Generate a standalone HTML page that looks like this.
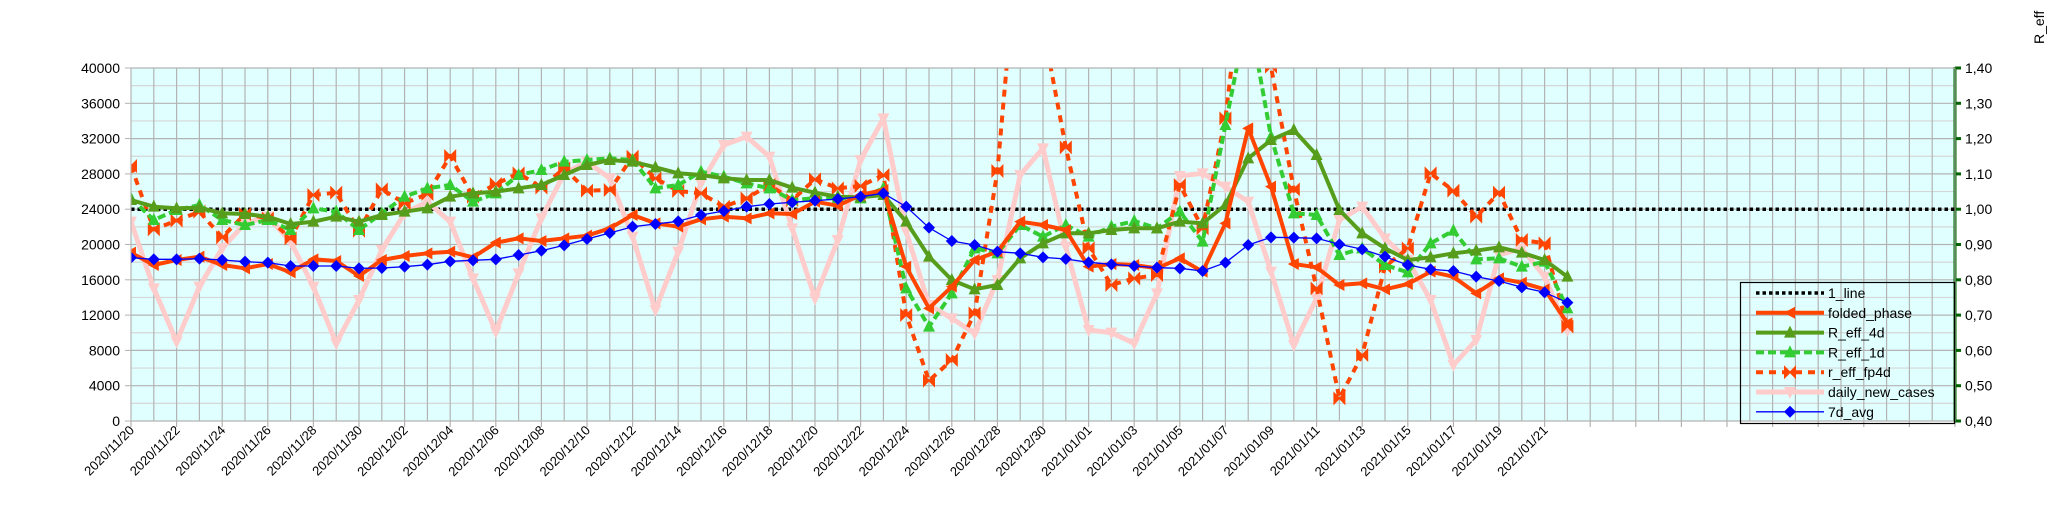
<!DOCTYPE html>
<html><head><meta charset="utf-8"><style>
body{margin:0;background:#fff;}
svg{display:block;font-family:"Liberation Sans",sans-serif;}
</style></head><body>
<svg id="s" width="2048" height="527" xmlns="http://www.w3.org/2000/svg"></svg>
<script>
const NS="http://www.w3.org/2000/svg";
const s=document.getElementById('s');
let h='';
const L=131,R=1955,T=68,B=421,DX=22.8;
h+=`<rect x="${L}" y="${T}" width="${R-L}" height="${B-T}" fill="#e0ffff"/>`;
// minor horizontal
for(let i=0;i<=20;i++){const y=B-i*(B-T)/20;h+=`<line x1="${L}" x2="${R}" y1="${y}" y2="${y}" stroke="${i%2?'#d6d6d6':'#b3b3b3'}" stroke-width="1.2"/>`;}
for(let d=0;d*DX<=R-L+1;d++){const x=L+d*DX;h+=`<line x1="${x}" x2="${x}" y1="${T}" y2="${B+(d%2==0?6:0)}" stroke="#b3b3b3" stroke-width="1.2"/>`;}
// left labels
for(let i=0;i<=10;i++){const y=B-i*(B-T)/10;h+=`<line x1="${L-6}" x2="${L}" y1="${y}" y2="${y}" stroke="#b3b3b3"/><text x="120" y="${y+5}" font-size="14" text-anchor="end" fill="#000">${i*4000}</text>`;}
// right axis
h+=`<line x1="${R}" x2="${R}" y1="${T-1}" y2="${B+1}" stroke="#006400" stroke-width="3"/>`;
for(let i=0;i<=10;i++){const y=B-i*(B-T)/10;const v=(0.4+i*0.1).toFixed(2).replace('.',',');h+=`<line x1="${R}" x2="${R+6}" y1="${y}" y2="${y}" stroke="#006400" stroke-width="3"/><text x="1965" y="${y+5}" font-size="14" fill="#000">${v}</text>`;}
h+=`<text transform="translate(2044,44) rotate(-90)" font-size="14" fill="#000">R_eff</text>`;
// x labels
const start=new Date(Date.UTC(2020,10,20));
for(let d=0;d<=62;d+=2){const dt=new Date(start.getTime()+d*864e5);const t=dt.getUTCFullYear()+'/'+String(dt.getUTCMonth()+1).padStart(2,'0')+'/'+String(dt.getUTCDate()).padStart(2,'0');const x=L+d*DX;h+=`<text transform="translate(${x+4},${431}) rotate(-45)" font-size="13" text-anchor="end" fill="#000">${t}</text>`;}
h+=`<defs><clipPath id="c"><rect x="${L}" y="${T}" width="${R-L}" height="${B-T}"/></clipPath></defs><g clip-path="url(#c)">`;
h+=`<line x1="${L}" x2="${R}" y1="209.2" y2="209.2" stroke="#000" stroke-width="3.5" stroke-dasharray="3.5,3"/>`;
const X=d=>L+d*DX,Y=z=>60+z/3;
const avg=[593,598,598,596,600,605,608,618,618,618,625,624,620,614,604,601,598,585,572,556,537,519,500,492,484,465,453,440,432,427,422,417,410,400,440,503,543,555,575,580,592,597,607,613,618,623,625,633,608,555,532,533,535,553,568,590,615,628,633,650,663,682,697,728];
const fold=[578,615,600,590,615,625,612,637,598,603,648,600,588,580,575,592,548,535,543,535,527,505,465,490,500,478,470,475,460,462,425,437,405,390,620,745,680,600,575,485,495,510,620,612,615,625,595,635,490,205,380,612,622,675,670,688,672,635,650,700,655,668,688,790];
const r4=[420,440,445,443,460,462,470,492,485,470,485,465,455,445,410,400,395,385,375,345,315,300,305,322,340,345,355,360,360,383,398,410,412,405,485,590,660,688,675,595,550,520,520,510,505,505,485,490,435,295,240,210,285,450,520,565,600,592,580,572,562,578,600,650];
const r1=[415,480,450,435,480,495,480,510,445,455,510,460,410,385,375,425,400,345,330,305,300,295,300,385,375,335,350,370,385,420,415,415,415,385,685,800,700,565,580,495,530,495,530,500,483,505,455,545,195,-150,230,460,465,585,565,615,637,550,512,598,595,620,605,745];
const fp=[318,508,482,455,532,462,475,535,405,398,512,388,430,402,288,410,372,340,383,325,392,390,290,355,393,400,440,415,375,420,358,385,378,345,765,962,900,760,333,-440,-100,262,565,675,655,645,375,505,175,-400,20,388,685,1015,885,620,565,340,392,470,398,540,550,800];
const dn=[485,685,845,680,565,490,470,545,680,850,720,570,460,425,485,655,815,640,475,340,305,355,530,750,575,370,255,230,290,505,715,540,300,175,515,735,775,820,660,345,265,560,810,818,850,700,348,340,380,425,635,855,715,480,440,535,600,720,915,840,585,565,650,810];
function path(a){return a.map((z,i)=>(i?'L':'M')+X(i).toFixed(1)+','+Y(z).toFixed(1)).join('');}
function mk(type,x,y,c){
 if(type=='tl')return `<polygon points="${x-6},${y} ${x+5},${y-6} ${x+5},${y+6}" fill="${c}"/>`;
 if(type=='tu')return `<polygon points="${x},${y-7} ${x-6},${y+5} ${x+6},${y+5}" fill="${c}"/>`;
 if(type=='td')return `<polygon points="${x},${y+7} ${x-6},${y-5} ${x+6},${y-5}" fill="${c}"/>`;
 if(type=='bt')return `<polygon points="${x-6},${y-7} ${x},${y-1} ${x+6},${y-7} ${x+6},${y+7} ${x},${y+1} ${x-6},${y+7}" fill="${c}"/>`;
 if(type=='dm')return `<polygon points="${x},${y-6} ${x+6},${y} ${x},${y+6} ${x-6},${y}" fill="${c}"/>`;
}
function series(a,c,w,dash,m){let o=`<path d="${path(a)}" fill="none" stroke="${c}" stroke-width="${w}" ${dash?`stroke-dasharray="${dash}"`:''} stroke-linejoin="round"/>`;a.forEach((z,i)=>{o+=mk(m,X(i),Y(z),c);});return o;}
h+=series(dn,'#ffcccc',5,'','td');
h+=series(fp,'#ff4500',4,'7,6','bt');
h+=series(r1,'#33cc33',4,'8,4','tu');
h+=series(r4,'#579d1c',4,'','tu');
h+=series(fold,'#ff4500',4,'','tl');
h+=series(avg,'#0000ff',1.3,'','dm');
h+=`</g>`;
h+=`<rect x="${L}" y="${T}" width="${R-L}" height="${B-T}" fill="none" stroke="#b3b3b3"/>`;
// legend
h+=`<rect x="1740.5" y="282.5" width="214" height="141" fill="none" stroke="#000" stroke-width="1.2"/>`;
const lg=[['1_line','#000',3.5,'3.5,3',null],['folded_phase','#ff4500',4,'','tl'],['R_eff_4d','#579d1c',4,'','tu'],['R_eff_1d','#33cc33',4,'8,4','tu'],['r_eff_fp4d','#ff4500',4,'7,6','bt'],['daily_new_cases','#ffcccc',5,'','td'],['7d_avg','#0000ff',1.3,'','dm']];
lg.forEach((e,i)=>{const y=293+i*19.8;h+=`<line x1="1756" x2="1824" y1="${y}" y2="${y}" stroke="${e[1]}" stroke-width="${e[2]}" ${e[3]?`stroke-dasharray="${e[3]}"`:''}/>`;if(e[4])h+=mk(e[4],1790,y,e[1]);h+=`<text x="1828" y="${y+5}" font-size="14" fill="#000">${e[0]}</text>`;});
s.innerHTML=h;
</script>
</body></html>
